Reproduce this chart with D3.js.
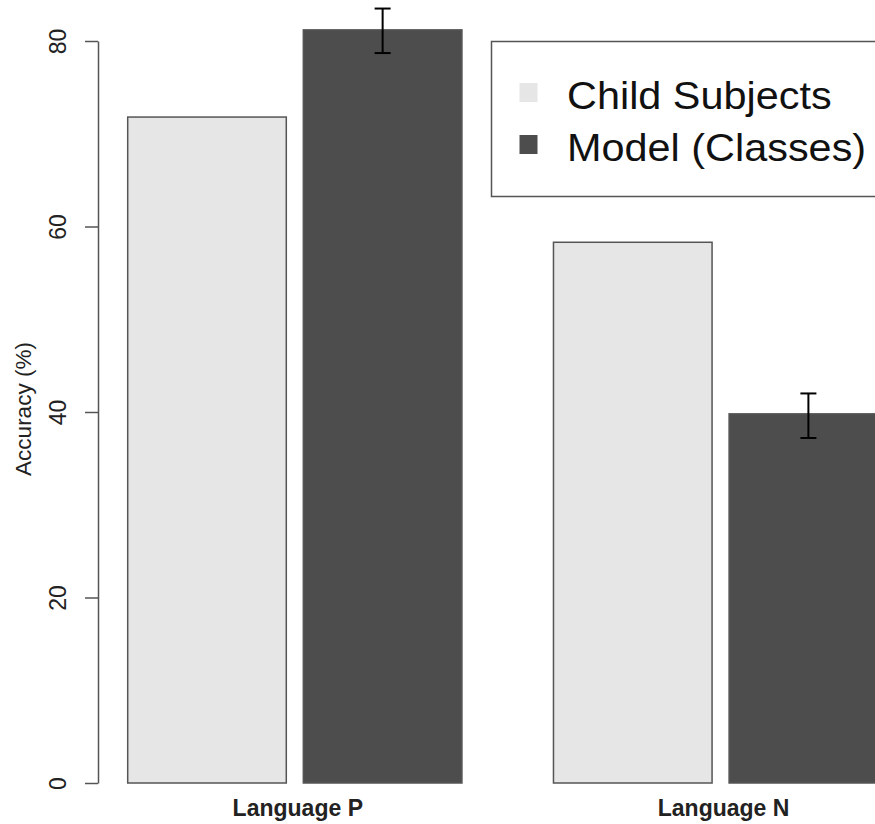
<!DOCTYPE html>
<html>
<head>
<meta charset="utf-8">
<script src="https://cdn.jsdelivr.net/npm/d3@7"></script>
<style>
	body { margin: 0; background: #fff; }
	svg { display: block; font-family: 'Liberation Sans', Arial, sans-serif; }
</style>
</head>
<body>
<svg width="875" height="824"></svg>
<script>
// values
const categories = ['Language P', 'Language N'];
const series = ['Child Subjects', 'Model (Classes)'];
const childValues = [71.8, 58.3];
const modelValues = [81.2, 39.8];
const modelErrLow = [78.7, 37.2];
const modelErrHigh = [83.5, 42.0];
const yTicks = [0, 20, 40, 60, 80];
const fills = ['#e6e6e6', '#4d4d4d'];

const svg = d3.select('svg');

const rows = categories.map((c, i) => ({
	category: c,
	values: [childValues[i], modelValues[i]],
	lo: modelErrLow[i],
	hi: modelErrHigh[i],
}));

// scales
const y = d3.scaleLinear().domain([0, 80]).range([783, 41]);

const x0 = d3
	.scaleBand()
	.domain(categories)
	.range([127.7, 887.7])
	.paddingInner(0.215)
	.paddingOuter(0);

const x1 = d3
	.scaleBand()
	.domain(series)
	.range([0, x0.bandwidth()])
	.paddingInner(0.097)
	.paddingOuter(0);

// y axis
const yAxis = svg
	.append('g')
	.attr('transform', 'translate(98,0)')
	.call(d3.axisLeft(y).tickValues(yTicks).tickSize(13).tickSizeOuter(0));

yAxis.selectAll('path, line').attr('stroke', '#555').attr('stroke-width', 1.5);
yAxis
	.selectAll('text')
	.attr('x', null)
	.attr('dy', null)
	.attr('text-anchor', 'middle')
	.attr('font-size', 23)
	.attr('fill', '#222')
	.attr('transform', 'translate(-32,0) rotate(-90)');

svg.append('text')
	.attr('transform', 'translate(31,409) rotate(-90)')
	.attr('text-anchor', 'middle')
	.attr('font-size', 22.5)
	.attr('fill', '#222')
	.text('Accuracy (%)');

// bars
const groups = svg
	.selectAll('g.group')
	.data(rows)
	.enter()
	.append('g')
	.attr('class', 'group')
	.attr('transform', (d) => `translate(${x0(d.category)},0)`);

groups
	.selectAll('rect')
	.data((d) => d.values.map((v, i) => ({ key: series[i], value: v })))
	.enter()
	.append('rect')
	.attr('x', (d) => x1(d.key))
	.attr('y', (d) => y(d.value))
	.attr('width', x1.bandwidth())
	.attr('height', (d) => y(0) - y(d.value))
	.attr('fill', (d, i) => fills[i])
	.attr('stroke', '#555')
	.attr('stroke-width', 1.5);

// error bars on the model series
const errX = x1(series[1]) + x1.bandwidth() / 2;
const err = groups.append('g').attr('stroke', '#000').attr('stroke-width', 2);
err.append('line')
	.attr('x1', errX).attr('x2', errX)
	.attr('y1', (d) => y(d.lo)).attr('y2', (d) => y(d.hi));
err.append('line')
	.attr('x1', errX - 8).attr('x2', errX + 8)
	.attr('y1', (d) => y(d.hi)).attr('y2', (d) => y(d.hi));
err.append('line')
	.attr('x1', errX - 8).attr('x2', errX + 8)
	.attr('y1', (d) => y(d.lo)).attr('y2', (d) => y(d.lo));

// category labels
groups
	.append('text')
	.attr('x', x0.bandwidth() / 2 + 3)
	.attr('y', 816)
	.attr('text-anchor', 'middle')
	.attr('font-size', 23)
	.attr('font-weight', 'bold')
	.attr('fill', '#222')
	.text((d) => d.category);

// legend
const legend = svg.append('g').attr('transform', 'translate(491.5,41.5)');
legend.append('rect')
	.attr('width', 420)
	.attr('height', 155)
	.attr('fill', '#fff')
	.attr('stroke', '#555')
	.attr('stroke-width', 1.5);

const item = legend
	.selectAll('g.item')
	.data(series)
	.enter()
	.append('g')
	.attr('class', 'item')
	.attr('transform', (d, i) => `translate(0,${51 + i * 52})`);

item.append('rect')
	.attr('x', 28)
	.attr('y', -9.5)
	.attr('width', 18)
	.attr('height', 19)
	.attr('fill', (d, i) => fills[i]);

item.append('text')
	.attr('x', 75.5)
	.attr('y', 16)
	.attr('font-size', 38)
	.attr('fill', '#111')
	.attr('transform', 'translate(75.5,0) scale(1.09,1) translate(-75.5,0)')
	.text((d) => d);
</script>
</body>
</html>
